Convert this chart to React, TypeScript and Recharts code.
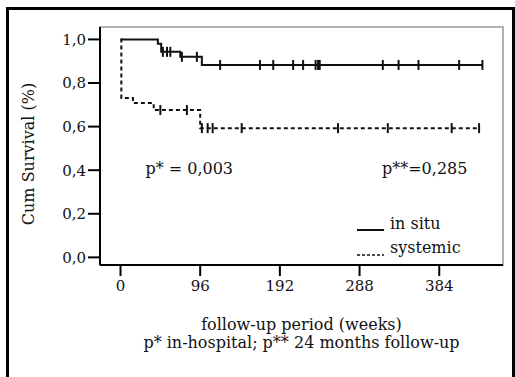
import { Label, Line, LineChart, ReferenceArea, ReferenceDot, XAxis, YAxis } from "recharts";

const FONT = '"DejaVu Serif", "Liberation Serif", serif';
const INK = "#111";

// Kaplan-Meier steps, in weeks; 1 = censored case
const inSituWeeks = [0, 45, 49, 51, 56, 60, 72, 74, 92, 98, 120, 168, 184, 208, 220, 235, 238, 240, 316, 335, 359, 408, 436];
const inSituSurvival = [1.0, 0.98, 0.943, 0.943, 0.943, 0.943, 0.92, 0.92, 0.92, 0.883, 0.883, 0.883, 0.883, 0.883, 0.883, 0.883, 0.883, 0.883, 0.883, 0.883, 0.883, 0.883, 0.883];
const inSituCensored = [0, 0, 0, 1, 1, 1, 0, 1, 1, 0, 1, 1, 1, 1, 1, 1, 1, 1, 1, 1, 1, 1, 1];

const systemicWeeks = [0, 1, 15, 40, 48, 80, 96, 98, 105, 111, 146, 262, 322, 399, 432];
const systemicSurvival = [1.0, 0.731, 0.708, 0.676, 0.676, 0.676, 0.593, 0.593, 0.593, 0.593, 0.593, 0.593, 0.593, 0.593, 0.593];
const systemicCensored = [0, 0, 0, 0, 1, 1, 0, 1, 1, 1, 1, 1, 1, 1, 1];

const xTicks = [0, 96, 192, 288, 384];
const yTicks = [0, 0.2, 0.4, 0.6, 0.8, 1.0];
const xDomain: [number, number] = [-24.7, 460.8];
const yDomain: [number, number] = [-0.035, 1.057];

const toRows = (w: number[], s: number[], c: number[]) =>
  w.map((t, i) => ({ t, s: s[i], censored: c[i] === 1 }));

const inSitu = toRows(inSituWeeks, inSituSurvival, inSituCensored);
const systemic = toRows(systemicWeeks, systemicSurvival, systemicCensored);

function CensorMark(props: any) {
  const { cx, cy, payload } = props;
  if (!payload || !payload.censored) return <g key={`n-${cx}`} />;
  return <line key={`c-${cx}-${cy}`} x1={cx} x2={cx} y1={cy - 5} y2={cy + 5} stroke={INK} strokeWidth={2} />;
}

function KeyBox() {
  const txt = { fontFamily: FONT, fontSize: 16, color: INK, lineHeight: "22px" };
  return (
    <div style={{ position: "absolute", left: 356, top: 213, display: "flex", flexDirection: "column" }}>
      <div style={{ display: "flex", alignItems: "flex-end" }}>
        <svg width={34} height={22}><line x1={1} x2={28} y1={17} y2={17} stroke={INK} strokeWidth={2} /></svg>
        <span style={txt}>in situ</span>
      </div>
      <div style={{ display: "flex", alignItems: "flex-end", marginTop: 2 }}>
        <svg width={34} height={22}><line x1={1} x2={28} y1={18} y2={18} stroke={INK} strokeWidth={1.5} strokeDasharray="3 2" /></svg>
        <span style={txt}>systemic</span>
      </div>
    </div>
  );
}

function XTitle(props: any) {
  const vb = props.viewBox || {};
  const cx = vb.x + vb.width / 2;
  return (
    <g fontFamily={FONT} fontSize={16} fill={INK} textAnchor="middle">
      <text x={cx} y={330}>follow-up period (weeks)</text>
      <text x={cx} y={348}>p* in-hospital; p** 24 months follow-up</text>
    </g>
  );
}

export default function App() {
  return (
    <div style={{ position: "fixed", left: 0, top: 0, width: 515, height: 377, background: "#fff", overflow: "hidden" }}>
      <div style={{ position: "absolute", left: 6, top: 7, width: 503, height: 420, border: "3px solid #000" }} />
      <LineChart width={515} height={377} margin={{ top: 27, right: 12, left: 0, bottom: 0 }}>
        <ReferenceArea x1={xDomain[0]} x2={xDomain[1]} y1={yDomain[0]} y2={yDomain[1]} fill="none" stroke="#999" strokeWidth={1.5} />
        <XAxis
          type="number"
          dataKey="t"
          domain={xDomain}
          ticks={xTicks}
          allowDataOverflow
          height={112}
          tickSize={11}
          tickMargin={4}
          axisLine={{ stroke: "#000", strokeWidth: 2 }}
          tickLine={{ stroke: "#000", strokeWidth: 2 }}
          tick={{ fontFamily: FONT, fontSize: 15, fill: INK }}
        >
          <Label content={<XTitle />} />
        </XAxis>
        <YAxis
          type="number"
          dataKey="s"
          domain={yDomain}
          ticks={yTicks}
          allowDataOverflow
          width={100}
          tickSize={12}
          tickMargin={2}
          tickFormatter={(v: number) => v.toFixed(1).replace(".", ",")}
          axisLine={{ stroke: "#000", strokeWidth: 2 }}
          tickLine={{ stroke: "#000", strokeWidth: 2 }}
          tick={{ fontFamily: FONT, fontSize: 15, fill: INK }}
        >
          <Label
            value="Cum Survival (%)"
            angle={-90}
            position="insideLeft"
            offset={28}
            dy={8}
            style={{ fontFamily: FONT, fontSize: 16, fill: INK, textAnchor: "middle" }}
          />
        </YAxis>
        <Line
          data={inSitu}
          dataKey="s"
          name="in situ"
          type="stepAfter"
          stroke={INK}
          strokeWidth={2}
          dot={<CensorMark />}
          activeDot={false}
          isAnimationActive={false}
        />
        <Line
          data={systemic}
          dataKey="s"
          name="systemic"
          type="stepAfter"
          stroke={INK}
          strokeWidth={2}
          strokeDasharray="4 3"
          dot={<CensorMark />}
          activeDot={false}
          isAnimationActive={false}
        />
        <ReferenceDot x={30} y={0.41} r={0} fill="none" stroke="none">
          <Label position="right" offset={0} value="p* = 0,003" style={{ fontFamily: FONT, fontSize: 16, fill: INK }} />
        </ReferenceDot>
        <ReferenceDot x={315} y={0.41} r={0} fill="none" stroke="none">
          <Label position="right" offset={0} value="p**=0,285" style={{ fontFamily: FONT, fontSize: 16, fill: INK }} />
        </ReferenceDot>
      </LineChart>
      <KeyBox />
    </div>
  );
}
